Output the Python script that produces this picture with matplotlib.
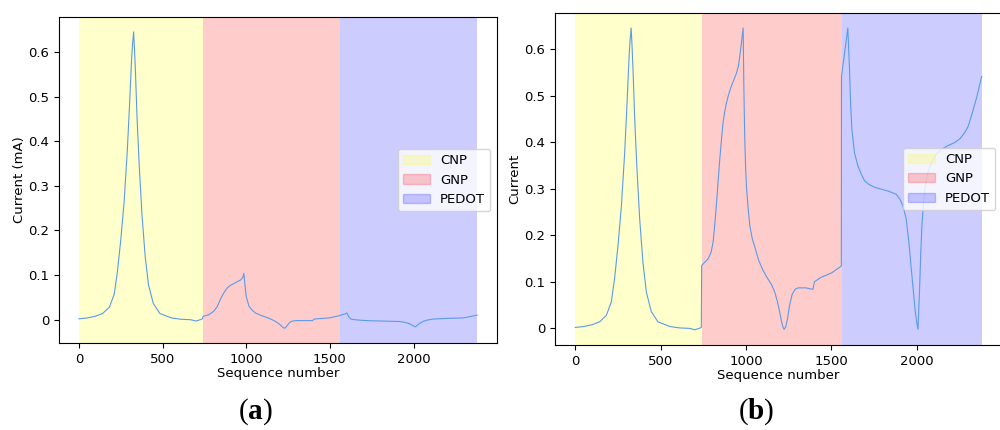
import matplotlib.pyplot as plt
from matplotlib.patches import Patch
from matplotlib.ticker import FuncFormatter

# 区間の境界 (sequence number)
BOUNDS = [0, 740, 1560, 2380]
ZONE_NAMES = ["CNP", "GNP", "PEDOT"]
ZONE_COLORS = ["yellow", "red", "blue"]

# CNP区間 (a, b 共通)
cnp_x = [0, 50, 100, 142, 182, 211, 230, 250, 270, 289, 303, 314, 320, 327,
         333, 338, 348, 361, 377, 396, 416, 445, 484, 553, 610, 668, 700, 725,
         738]
cnp_y = [0.002, 0.004, 0.008, 0.014, 0.028, 0.057, 0.107, 0.178, 0.263, 0.377,
         0.484, 0.577, 0.615, 0.645, 0.600, 0.555, 0.448, 0.342, 0.235, 0.142,
         0.078, 0.036, 0.014, 0.004, 0.001, 0.000, -0.003, 0.000, 0.002]

# (a) 電流 (mA)
gnp_x_a = [742, 776, 806, 826, 846, 866, 886, 906, 936, 966, 980, 986, 992,
           1000, 1016, 1036, 1056, 1086, 1116, 1150, 1176, 1205, 1222, 1232,
           1245, 1260, 1276, 1300, 1336, 1396, 1406, 1450, 1496, 1558]
gnp_y_a = [0.0075, 0.011, 0.019, 0.029, 0.046, 0.060, 0.071, 0.077, 0.083,
           0.089, 0.095, 0.104, 0.080, 0.052, 0.031, 0.021, 0.015, 0.010,
           0.006, 0.001, -0.004, -0.012, -0.018, -0.019, -0.013, -0.006,
           -0.003, -0.002, -0.002, -0.002, 0.0015, 0.0028, 0.004, 0.009]
pedot_x_a = [1562, 1590, 1602, 1612, 1626, 1650, 1696, 1756, 1816, 1916, 1950,
             1976, 1995, 2012, 2030, 2056, 2080, 2116, 2200, 2296, 2340, 2380]
pedot_y_a = [0.010, 0.013, 0.015, 0.007, 0.0015, 0.000, -0.0015, -0.0025,
             -0.003, -0.004, -0.006, -0.009, -0.013, -0.016, -0.010, -0.004,
             -0.001, 0.0015, 0.003, 0.004, 0.007, 0.0105]

# (b) 正規化した電流
gnp_x_b = [740, 777, 795, 807, 816, 826, 836, 846, 856, 865, 875, 885, 900,
           914, 930, 944, 955, 963, 972, 983, 987, 992, 997, 1002, 1012, 1022,
           1036, 1051, 1075, 1100, 1125, 1149, 1168, 1184, 1197, 1208, 1216,
           1223, 1232, 1243, 1255, 1270, 1288, 1305, 1350, 1387, 1392, 1400,
           1420, 1442, 1501, 1558]
gnp_y_b = [0.135, 0.149, 0.163, 0.185, 0.220, 0.263, 0.315, 0.363, 0.405,
           0.441, 0.465, 0.484, 0.505, 0.520, 0.535, 0.548, 0.563, 0.584,
           0.610, 0.645, 0.520, 0.413, 0.350, 0.306, 0.258, 0.221, 0.193,
           0.175, 0.145, 0.124, 0.108, 0.094, 0.078, 0.057, 0.035, 0.014,
           0.003, -0.002, 0.003, 0.021, 0.050, 0.073, 0.084, 0.087, 0.087,
           0.084, 0.084, 0.100, 0.105, 0.110, 0.119, 0.134]
pedot_x_b = [1559, 1577, 1596, 1601, 1606, 1612, 1620, 1635, 1655, 1675, 1694,
             1720, 1753, 1790, 1831, 1879, 1900, 1919, 1938, 1955, 1967, 1980,
             1991, 2000, 2007, 2012, 2017, 2023, 2030, 2040, 2050, 2065, 2085,
             2110, 2143, 2180, 2222, 2255, 2280, 2300, 2319, 2350, 2380]
pedot_y_b = [0.541, 0.591, 0.645, 0.600, 0.555, 0.484, 0.427, 0.377, 0.349,
             0.331, 0.317, 0.309, 0.303, 0.299, 0.295, 0.288, 0.278, 0.263,
             0.235, 0.180, 0.130, 0.080, 0.036, 0.012, -0.002, 0.045, 0.092,
             0.160, 0.221, 0.270, 0.306, 0.335, 0.356, 0.372, 0.384, 0.392,
             0.399, 0.408, 0.420, 0.433, 0.455, 0.495, 0.541]

LINE_COLOR = "#5b9ae8"


def draw(ax, xs, ys, ylabel):
    handles = []
    for i, name in enumerate(ZONE_NAMES):
        ax.axvspan(BOUNDS[i], BOUNDS[i + 1], color=ZONE_COLORS[i], alpha=0.2,
                   lw=0)
        handles.append(Patch(color=ZONE_COLORS[i], alpha=0.2, label=name))
    ax.plot(xs, ys, color=LINE_COLOR, lw=0.8)
    ax.set_xlabel("Sequence number", fontsize=9.5, labelpad=1)
    ax.set_ylabel(ylabel, fontsize=9.5, labelpad=2)
    ax.set_xticks([0, 500, 1000, 1500, 2000])
    ax.set_yticks([0, 0.1, 0.2, 0.3, 0.4, 0.5, 0.6])
    ax.yaxis.set_major_formatter(FuncFormatter(lambda v, p: "%g" % round(v, 2)))
    ax.tick_params(labelsize=9.5)
    ax.legend(handles=handles, loc="center right", fontsize=9.5)


plt.rcParams["mathtext.fontset"] = "custom"
plt.rcParams["mathtext.bf"] = "Liberation Serif:bold"
plt.rcParams["mathtext.rm"] = "Liberation Serif"

fig = plt.figure(figsize=(10, 4.3), dpi=100)
ax1 = fig.add_axes([0.059, 0.2023, 0.438, 0.758])
ax2 = fig.add_axes([0.555, 0.198, 0.447, 0.772])

draw(ax1, cnp_x + gnp_x_a + pedot_x_a, cnp_y + gnp_y_a + pedot_y_a,
     "Current (mA)")
draw(ax2, cnp_x + gnp_x_b + pedot_x_b, cnp_y + gnp_y_b + pedot_y_b,
     "Current")

fig.text(0.255, 0.042, r"($\mathbf{a}$)", ha="center", va="center",
         fontsize=21, family="Liberation Serif")
fig.text(0.756, 0.042, r"($\mathbf{b}$)", ha="center", va="center",
         fontsize=21, family="Liberation Serif")

plt.savefig("out.png", dpi=100)
